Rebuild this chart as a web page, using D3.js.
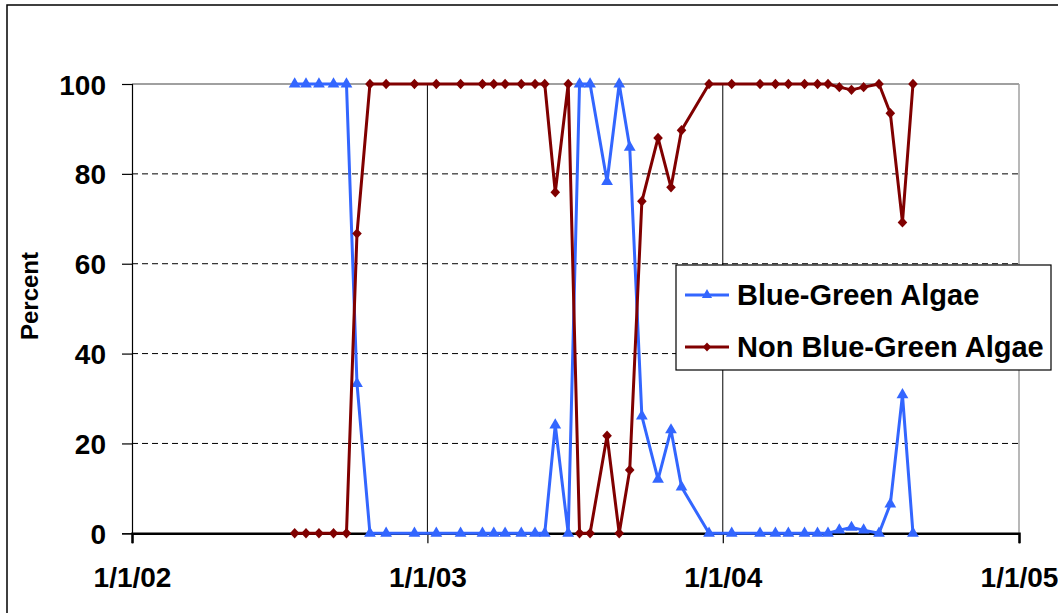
<!DOCTYPE html>
<html>
<head>
<meta charset="utf-8">
<script src="https://cdn.jsdelivr.net/npm/d3@7"></script>
<style>
  html, body { margin: 0; padding: 0; background: #fff; }
  svg { display: block; }
  text { font-family: "Liberation Sans", Arial, sans-serif; font-weight: bold; fill: #000; }
</style>
</head>
<body>
<svg id="chart" width="1058" height="613"></svg>
<script>
// ---- data ----
const dates = [
  "2002-07-21","2002-08-04","2002-08-20","2002-09-07","2002-09-23","2002-10-06","2002-10-22",
  "2002-11-11","2002-12-16","2003-01-12","2003-02-11","2003-03-10","2003-03-24","2003-04-07",
  "2003-04-27","2003-05-14","2003-05-26","2003-06-08","2003-06-24","2003-07-08","2003-07-21",
  "2003-08-11","2003-08-26","2003-09-08","2003-09-23","2003-10-13","2003-10-29","2003-11-11",
  "2003-12-15","2004-01-12","2004-02-16","2004-03-06","2004-03-22","2004-04-11","2004-04-27",
  "2004-05-10","2004-05-24","2004-06-08","2004-06-23","2004-07-12","2004-07-26","2004-08-10",
  "2004-08-23"
];
const blueGreen = [
  100,100,100,100,100,33.3,0,
  0,0,0,0,0,0,0,
  0,0,0,24.1,0,100,100,
  78.3,100,85.9,26.1,12,23,10.3,
  0,0,0,0,0,0,0,
  0,0.7,1.3,0.7,0,6.5,30.8,
  0
];
const nonBlueGreen = [
  0,0,0,0,0,66.7,100,
  100,100,100,100,100,100,100,
  100,100,100,75.9,100,0,0,
  21.7,0,14.1,73.9,88,77,89.7,
  100,100,100,100,100,100,100,
  100,99.3,98.7,99.3,100,93.5,69.2,
  100
];
const xTickLabels = ["1/1/02","1/1/03","1/1/04","1/1/05"];
const yTickValues = [0,20,40,60,80,100];
const seriesNames = ["Blue-Green Algae","Non Blue-Green Algae"];

// ---- layout ----
const parse = d3.timeParse("%Y-%m-%d");
const parseTick = d3.timeParse("%m/%d/%y");
const xTicks = xTickLabels.map(s => parseTick(s));
const svg = d3.select("#chart");
const plotLeft = 132, plotRight = 1019, plotTop = 84, plotBottom = 533.3;

const x = d3.scaleTime().domain([xTicks[0], xTicks[xTicks.length-1]]).range([plotLeft, plotRight]);
const y = d3.scaleLinear().domain([0, 100]).range([plotBottom, plotTop]);

// outer frame
svg.append("rect").attr("x", 7).attr("y", 5).attr("width", 1100).attr("height", 700)
  .attr("fill", "#fff").attr("stroke", "#000").attr("stroke-width", 1.5);

// horizontal dashed gridlines
svg.append("g").selectAll("line").data(yTickValues.filter(v => v > 0 && v < 100)).join("line")
  .attr("x1", plotLeft).attr("x2", plotRight).attr("y1", d => y(d)).attr("y2", d => y(d))
  .attr("stroke", "#000").attr("stroke-width", 1).attr("stroke-dasharray", "6,4");

// plot border top & right (gray)
svg.append("line").attr("x1", plotLeft).attr("x2", plotRight).attr("y1", y(100)).attr("y2", y(100))
  .attr("stroke", "#a0a0a0").attr("stroke-width", 2);
svg.append("line").attr("x1", plotRight).attr("x2", plotRight).attr("y1", y(100)).attr("y2", y(0))
  .attr("stroke", "#a0a0a0").attr("stroke-width", 1.5);

// vertical gridlines at inner ticks
svg.append("g").selectAll("line").data(xTicks.slice(1, -1)).join("line")
  .attr("x1", d => x(d)).attr("x2", d => x(d)).attr("y1", y(100)).attr("y2", y(0))
  .attr("stroke", "#000").attr("stroke-width", 1);

// y axis
const yAxis = d3.axisLeft(y).tickValues(yTickValues).tickSize(10).tickPadding(16).tickFormat(d3.format("d"));
const gy = svg.append("g").attr("transform", `translate(${plotLeft},0)`).call(yAxis);
gy.select(".domain").attr("stroke", "#000").attr("stroke-width", 1.2);
gy.selectAll(".tick line").attr("stroke", "#000").attr("stroke-width", 1.2);
gy.selectAll(".tick text").style("font-size", "28px").attr("dy", "0.36em")
  .style("font-family", '"Liberation Sans", Arial, sans-serif').style("font-weight", "bold");

// x axis
const xAxis = d3.axisBottom(x).tickValues(xTicks).tickSize(10).tickPadding(24)
  .tickFormat((d, i) => xTickLabels[i]);
const gx = svg.append("g").attr("transform", `translate(0,${plotBottom})`).call(xAxis);
gx.select(".domain").attr("stroke", "#000").attr("stroke-width", 2.5);
gx.selectAll(".tick line").attr("stroke", "#000").attr("stroke-width", 1.2);
gx.selectAll(".tick text").style("font-size", "28px")
  .style("font-family", '"Liberation Sans", Arial, sans-serif').style("font-weight", "bold");

// y axis title
svg.append("text").attr("transform", "translate(30,296) rotate(-90)")
  .attr("text-anchor", "middle").attr("dy", "0.35em").style("font-size", "24px").text("Percent");

// series
const blueColor = "#3366ff", redColor = "#800000";
const triangle = d3.symbol().type(d3.symbolTriangle).size(60);
const diamondPath = "M0,-5.2L4.8,0L0,5.2L-4.8,0Z";

const pts = dates.map((d, i) => ({ date: parse(d), b: blueGreen[i], n: nonBlueGreen[i] }));
const lineB = d3.line().x(d => x(d.date)).y(d => y(d.b));
const lineN = d3.line().x(d => x(d.date)).y(d => y(d.n));

svg.append("path").datum(pts).attr("d", lineB).attr("fill", "none")
  .attr("stroke", blueColor).attr("stroke-width", 3).attr("stroke-linejoin", "round");
svg.append("g").selectAll("path").data(pts).join("path")
  .attr("transform", d => `translate(${x(d.date)},${y(d.b)})`).attr("d", triangle).attr("fill", blueColor);

svg.append("path").datum(pts).attr("d", lineN).attr("fill", "none")
  .attr("stroke", redColor).attr("stroke-width", 3).attr("stroke-linejoin", "round");
svg.append("g").selectAll("path").data(pts).join("path")
  .attr("transform", d => `translate(${x(d.date)},${y(d.n)})`).attr("d", diamondPath).attr("fill", redColor);

// legend
const lg = svg.append("g");
lg.append("rect").attr("x", 676).attr("y", 265).attr("width", 375).attr("height", 105)
  .attr("fill", "#fff").attr("stroke", "#000").attr("stroke-width", 1.2);
const legendItems = [
  { name: seriesNames[0], color: blueColor, marker: "tri", yy: 295 },
  { name: seriesNames[1], color: redColor, marker: "dia", yy: 347 }
];
legendItems.forEach(it => {
  lg.append("line").attr("x1", 685).attr("x2", 729).attr("y1", it.yy).attr("y2", it.yy)
    .attr("stroke", it.color).attr("stroke-width", 3);
  lg.append("path").attr("transform", `translate(707,${it.yy})`)
    .attr("d", it.marker === "tri" ? d3.symbol().type(d3.symbolTriangle).size(45)() : "M0,-4.5L4.2,0L0,4.5L-4.2,0Z")
    .attr("fill", it.color);
  lg.append("text").attr("x", 737).attr("y", it.yy).attr("dy", "0.36em")
    .style("font-size", "29px").text(it.name);
});
</script>
</body>
</html>
